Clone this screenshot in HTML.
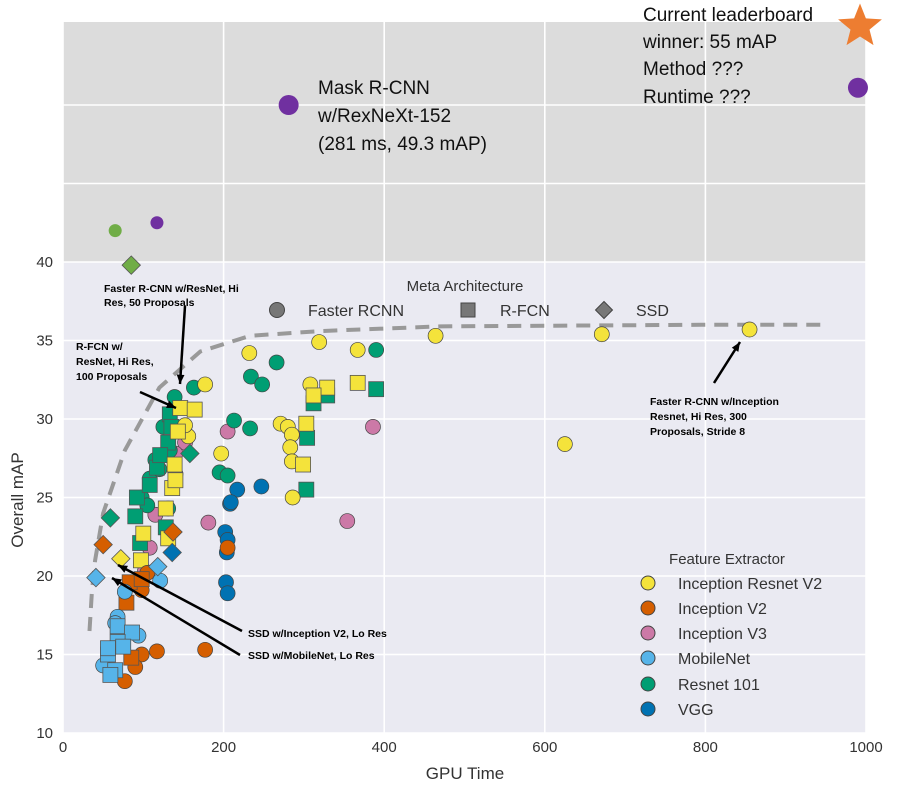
<!DOCTYPE html>
<html><head><meta charset="utf-8"><style>
body{margin:0;background:#fff;}
svg text{font-family:"Liberation Sans","DejaVu Sans",sans-serif;}
</style></head><body>
<svg id="c" width="898" height="789" xmlns="http://www.w3.org/2000/svg">
<rect x="63" y="22" width="803" height="240" fill="#dcdcdc"/>
<rect x="63" y="262" width="803" height="471" fill="#eaeaf2"/>
<g id="grid"></g>
<g id="curve"></g>
<g id="marks"></g>
<g id="ann" stroke="#000" stroke-width="2.5" fill="none"></g>
<g id="txt"></g>
</svg>
<script>
const NS='http://www.w3.org/2000/svg';
const svg=document.getElementById('c');
const xs=v=>63+v*0.803, ys=v=>262-(v-40)*15.7;
const xTicks=[0,200,400,600,800,1000];
const yTicks=[10,15,20,25,30,35,40];
const yTopGrid=[45,50];
const colors={irv2:'#f4e33b',iv2:'#d55e00',iv3:'#cc79a7',mob:'#56b4e9',res:'#009e73',vgg:'#0072b2'};
// series: [x,y] in data units
const irv2Circle=[[177,32.2],[232,34.2],[319,34.9],[367,34.4],[464,35.3],[671,35.4],[855,35.7],[625,28.4],[308,32.2],[197,27.8],[271,29.7],[280,29.5],[285,29.0],[283,28.2],[285,27.3],[286,25.0],[156,28.9],[152,29.6],[140,26.5]];
const irv2Square=[[146,30.7],[164,30.6],[143,29.2],[139,27.1],[136,25.6],[128,24.3],[131,22.4],[100,22.7],[97,21.0],[329,32.0],[312,31.5],[367,32.3],[303,29.7],[299,27.1],[140,26.1]];
const irv2Diamond=[[72,21.1]];
const resCircle=[[266,33.6],[234,32.7],[248,32.2],[390,34.4],[163,32.0],[213,29.9],[233,29.4],[195,26.6],[205,26.4],[139,31.4],[125,29.5],[115,27.4],[108,26.2],[98,25.0],[131,24.3],[133,28.0],[120,26.8],[105,24.5]];
const resSquare=[[133,30.3],[131,28.5],[117,26.9],[92,25.0],[90,23.8],[108,25.8],[121,27.7],[304,28.8],[303,25.5],[390,31.9],[329,31.5],[312,31.0],[135,29.5],[96,22.1],[128,23.1]];
const resDiamond=[[59,23.7],[158,27.8]];
const iv2Circle=[[205,21.8],[98,19.1],[117,15.2],[98,15.0],[90,14.2],[77,13.3],[177,15.3],[105,20.2]];
const iv2Square=[[83,19.6],[79,18.3],[98,19.8],[85,14.8]];
const iv2Diamond=[[50,22.0],[137,22.8]];
const iv3Circle=[[205,29.2],[386,29.5],[354,23.5],[181,23.4],[115,23.9],[108,21.8],[102,20.3],[152,28.5],[140,27.8]];
const mobCircle=[[121,19.7],[77,19.0],[68,17.4],[94,16.2],[50,14.3],[65,17.0]];
const mobSquare=[[68,16.8],[86,16.4],[68,15.8],[56,15.0],[65,14.0],[59,13.7],[56,15.4],[75,15.5]];
const mobDiamond=[[41,19.9],[118,20.6]];
const vggCircle=[[208,24.6],[202,22.8],[205,22.3],[204,21.5],[203,19.6],[205,18.9],[217,25.5],[247,25.7],[209,24.7]];
const vggDiamond=[[136,21.5]];
const curveX=[33,36,40,50,77,120,171,233,320,470,795,945];
const curveY=[16.5,19,21,24,28,32,34.3,35.3,35.6,35.9,36,36];
const topPoints=[[281,50.0,'#7030a0',10],[990,51.1,'#7030a0',10],[65,42.0,'#70ad47',6.5],[117,42.5,'#7030a0',6.5]];
const topDiamond=[[85,39.8]];
const star=[1000,55];

function el(t,a,p){const e=document.createElementNS(NS,t);for(const k in a)e.setAttribute(k,a[k]);(p||svg).appendChild(e);return e;}
const grid=document.getElementById('grid');
xTicks.forEach(v=>{const l=el('line',{x1:xs(v),x2:xs(v),y1:22,y2:733,stroke:'#fff','stroke-width':1.6},grid);


const t=el('text',{x:xs(v),y:752,'text-anchor':'middle','font-size':15,fill:'#333'});t.textContent=v;

});
yTicks.forEach(v=>{const l=el('line',{x1:63,x2:866,y1:ys(v),y2:ys(v),stroke:'#fff','stroke-width':1.6},grid);


const t=el('text',{x:53,y:ys(v)+5,'text-anchor':'end','font-size':15,fill:'#333'});t.textContent=v;

});
yTopGrid.forEach(v=>{const l=el('line',{x1:63,x2:866,y1:ys(v),y2:ys(v),stroke:'#fff','stroke-width':1.6},grid);

});

const cp=el('polyline',{points:curveX.map((x,i)=>xs(x)+','+ys(curveY[i])).join(' '),fill:'none',stroke:'#999','stroke-width':4,'stroke-dasharray':'14,9'},document.getElementById('curve'));



const marks=document.getElementById('marks');
function circle(x,y,c,r){const e=el('circle',{cx:x,cy:y,r:r||7.5,fill:c,stroke:'#444','stroke-width':0.7},marks);return e;}
function square(x,y,c){return el('rect',{x:x-7.5,y:y-7.5,width:15,height:15,fill:c,stroke:'#555','stroke-width':0.8},marks);}
function diamond(x,y,c){return el('rect',{x:x-6.5,y:y-6.5,width:13,height:13,fill:c,stroke:'#555','stroke-width':0.8,transform:`rotate(45 ${x} ${y})`},marks);}
function draw(arr,kind,c,name){arr.forEach(p=>{const f=kind==='c'?circle:kind==='s'?square:diamond;const e=f(xs(p[0]),ys(p[1]),c);

});}
draw(iv3Circle,'c',colors.iv3,'inception-v3-point');
draw(vggCircle,'c',colors.vgg,'vgg-point');
draw(resCircle,'c',colors.res,'resnet101-point');
draw(resSquare,'s',colors.res,'resnet101-rfcn-point');
draw(irv2Circle,'c',colors.irv2,'inception-resnet-v2-point');
draw(irv2Square,'s',colors.irv2,'inception-resnet-v2-rfcn-point');
draw(iv2Circle,'c',colors.iv2,'inception-v2-point');
draw(iv2Square,'s',colors.iv2,'inception-v2-rfcn-point');
draw(mobCircle,'c',colors.mob,'mobilenet-point');
draw(mobSquare,'s',colors.mob,'mobilenet-rfcn-point');
draw(resDiamond,'d',colors.res,'resnet101-ssd-point');
draw(iv2Diamond,'d',colors.iv2,'inception-v2-ssd-point');
draw(mobDiamond,'d',colors.mob,'mobilenet-ssd-point');
draw(vggDiamond,'d',colors.vgg,'vgg-ssd-point');
draw(irv2Diamond,'d',colors.irv2,'inception-resnet-v2-ssd-point');
draw(topDiamond,'d','#70ad47','top-green-diamond');
topPoints.forEach(p=>{const e=el('circle',{cx:xs(p[0]),cy:ys(p[1]),r:p[3],fill:p[2],stroke:'none'},marks);

});
(function(){const cx=xs(star[0])-6,cy=ys(star[1]);let pts=[];for(let i=0;i<10;i++){const r=i%2?10:23,a=-Math.PI/2+i*Math.PI/5;pts.push((cx+r*Math.cos(a)).toFixed(1)+','+(cy+r*Math.sin(a)).toFixed(1));}
const s=el('polygon',{points:pts.join(' '),fill:'#ed7d31'},marks);

})();

const ann=document.getElementById('ann');
[[185,306,180,384],[140,392,176,408],[242,631,118,565],[240,655,112,578],[714,383,740,342]].forEach(a=>{
const l=el('line',{x1:a[0],y1:a[1],x2:a[2],y2:a[3]},ann);


const ang=Math.atan2(a[3]-a[1],a[2]-a[0]);const h=10;
const p=el('polygon',{points:`${a[2]},${a[3]} ${a[2]-h*Math.cos(ang-0.4)},${a[3]-h*Math.sin(ang-0.4)} ${a[2]-h*Math.cos(ang+0.4)},${a[3]-h*Math.sin(ang+0.4)}`,fill:'#000',stroke:'none'},ann);

});
</script>
<svg style="position:absolute;left:0;top:0" width="898" height="789">
<g font-family="Liberation Sans, sans-serif" font-size="10.5" font-weight="bold" fill="#000">
<text x="104" y="292"><tspan x="104">Faster R-CNN w/ResNet, Hi</tspan><tspan x="104" dy="14">Res, 50 Proposals</tspan></text>
<text x="76" y="350"><tspan x="76">R-FCN w/</tspan><tspan x="76" dy="15">ResNet, Hi Res,</tspan><tspan x="76" dy="15">100 Proposals</tspan></text>
<text x="248" y="637">SSD w/Inception V2, Lo Res</text>
<text x="248" y="659">SSD w/MobileNet, Lo Res</text>
<text x="650" y="405"><tspan x="650">Faster R-CNN w/Inception</tspan><tspan x="650" dy="15">Resnet, Hi Res, 300</tspan><tspan x="650" dy="15">Proposals, Stride 8</tspan></text>
</g>
<g font-family="Liberation Sans, sans-serif" font-size="19" fill="#111">
<text><tspan x="318" y="94">Mask R-CNN</tspan><tspan x="318" y="122">w/RexNeXt-152</tspan><tspan x="318" y="150">(281 ms, 49.3 mAP)</tspan></text>
<text><tspan x="643" y="21">Current leaderboard</tspan><tspan x="643" y="48">winner: 55 mAP</tspan><tspan x="643" y="75">Method ???</tspan><tspan x="643" y="103">Runtime ???</tspan></text>
</g>
<g font-family="Liberation Sans, sans-serif" font-size="16" fill="#333">
<text x="465" y="291" text-anchor="middle" font-size="15">Meta Architecture</text>
<circle cx="277" cy="310" r="7.5" fill="#777" stroke="#444"/>
<text x="308" y="316">Faster RCNN</text>
<rect x="461" y="303" width="14" height="14" fill="#777" stroke="#444"/>
<text x="500" y="316">R-FCN</text>
<rect x="598" y="304" width="12" height="12" fill="#777" stroke="#444" transform="rotate(45 604 310)"/>
<text x="636" y="316">SSD</text>
<text x="727" y="564" text-anchor="middle" font-size="15">Feature Extractor</text>
<circle cx="648" cy="583" r="7" fill="#f4e33b" stroke="#444"/><text x="678" y="589">Inception Resnet V2</text>
<circle cx="648" cy="608" r="7" fill="#d55e00" stroke="#444"/><text x="678" y="614">Inception V2</text>
<circle cx="648" cy="633" r="7" fill="#cc79a7" stroke="#444"/><text x="678" y="639">Inception V3</text>
<circle cx="648" cy="658" r="7" fill="#56b4e9" stroke="#444"/><text x="678" y="664">MobileNet</text>
<circle cx="648" cy="684" r="7" fill="#009e73" stroke="#444"/><text x="678" y="690">Resnet 101</text>
<circle cx="648" cy="709" r="7" fill="#0072b2" stroke="#444"/><text x="678" y="715">VGG</text>
<text x="465" y="779" text-anchor="middle" font-size="17">GPU Time</text>
<text x="23" y="500" text-anchor="middle" font-size="17" transform="rotate(-90 23 500)">Overall mAP</text>
</g>
</svg>
</body></html>
